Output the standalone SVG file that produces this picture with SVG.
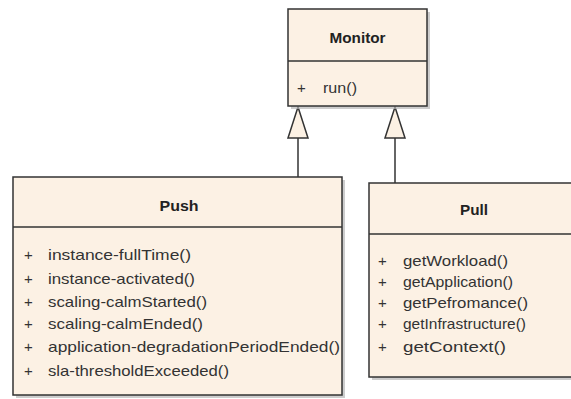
<svg xmlns="http://www.w3.org/2000/svg" width="571" height="399" viewBox="0 0 571 399">
<style>
.box{fill:#fcf1e4;stroke:#333;stroke-width:1.5}
.shadow{fill:#b8b8b8;opacity:0.7}
.div{stroke:#333;stroke-width:1.5}
.title{font-family:"Liberation Sans",Arial,sans-serif;font-weight:bold;font-size:15px;fill:#222;text-anchor:middle}
.item{font-family:"Liberation Sans",Arial,sans-serif;font-size:15px;fill:#333}
.conn{stroke:#333;stroke-width:1.5;fill:none}
.tri{fill:#fcf1e4;stroke:#333;stroke-width:1.5}
</style>
<rect width="571" height="399" fill="#ffffff"/>
<g id="connectors">
<line class="conn" x1="298" y1="138" x2="298" y2="177"/>
<polygon class="tri" points="298,107 288,138 308,138"/>
<line class="conn" x1="395" y1="138" x2="395" y2="183"/>
<polygon class="tri" points="395,107 385,138 405,138"/>
</g>
<g id="Monitor">
<rect class="shadow" x="291" y="12" width="139" height="97"/>
<rect class="box" x="288" y="9" width="139" height="97"/>
<line class="div" x1="288" y1="61" x2="427" y2="61"/>
<text class="title" x="357.5" y="43" textLength="56" lengthAdjust="spacingAndGlyphs">Monitor</text>
<text class="item" x="297" y="93">+</text>
<text class="item" x="323" y="93" textLength="34" lengthAdjust="spacingAndGlyphs">run()</text>
</g>
<g id="Push">
<rect class="shadow" x="16" y="180" width="329" height="218"/>
<rect class="box" x="13" y="177" width="329" height="218"/>
<line class="div" x1="13" y1="227" x2="342" y2="227"/>
<text class="title" x="179" y="211" textLength="39" lengthAdjust="spacingAndGlyphs">Push</text>
<text class="item" x="24" y="260">+</text>
<text class="item" x="48" y="260" textLength="143" lengthAdjust="spacingAndGlyphs">instance-fullTime()</text>
<text class="item" x="24" y="284">+</text>
<text class="item" x="48" y="284" textLength="147" lengthAdjust="spacingAndGlyphs">instance-activated()</text>
<text class="item" x="24" y="307">+</text>
<text class="item" x="48" y="307" textLength="159" lengthAdjust="spacingAndGlyphs">scaling-calmStarted()</text>
<text class="item" x="24" y="329">+</text>
<text class="item" x="48" y="329" textLength="155" lengthAdjust="spacingAndGlyphs">scaling-calmEnded()</text>
<text class="item" x="24" y="352">+</text>
<text class="item" x="48" y="352" textLength="292" lengthAdjust="spacingAndGlyphs">application-degradationPeriodEnded()</text>
<text class="item" x="24" y="376">+</text>
<text class="item" x="48" y="376" textLength="181" lengthAdjust="spacingAndGlyphs">sla-thresholdExceeded()</text>
</g>
<g id="Pull">
<rect class="shadow" x="372" y="186" width="210" height="194"/>
<rect class="box" x="369" y="183" width="210" height="194"/>
<line class="div" x1="369" y1="234" x2="579" y2="234"/>
<text class="title" x="474" y="215" textLength="28" lengthAdjust="spacingAndGlyphs">Pull</text>
<text class="item" x="378" y="266">+</text>
<text class="item" x="403" y="266" textLength="105" lengthAdjust="spacingAndGlyphs">getWorkload()</text>
<text class="item" x="378" y="287">+</text>
<text class="item" x="403" y="287" textLength="110" lengthAdjust="spacingAndGlyphs">getApplication()</text>
<text class="item" x="378" y="308">+</text>
<text class="item" x="403" y="308" textLength="125" lengthAdjust="spacingAndGlyphs">getPefromance()</text>
<text class="item" x="378" y="329">+</text>
<text class="item" x="403" y="329" textLength="123" lengthAdjust="spacingAndGlyphs">getInfrastructure()</text>
<text class="item" x="378" y="352">+</text>
<text class="item" x="403" y="352" textLength="103" lengthAdjust="spacingAndGlyphs">getContext()</text>
</g>
</svg>
